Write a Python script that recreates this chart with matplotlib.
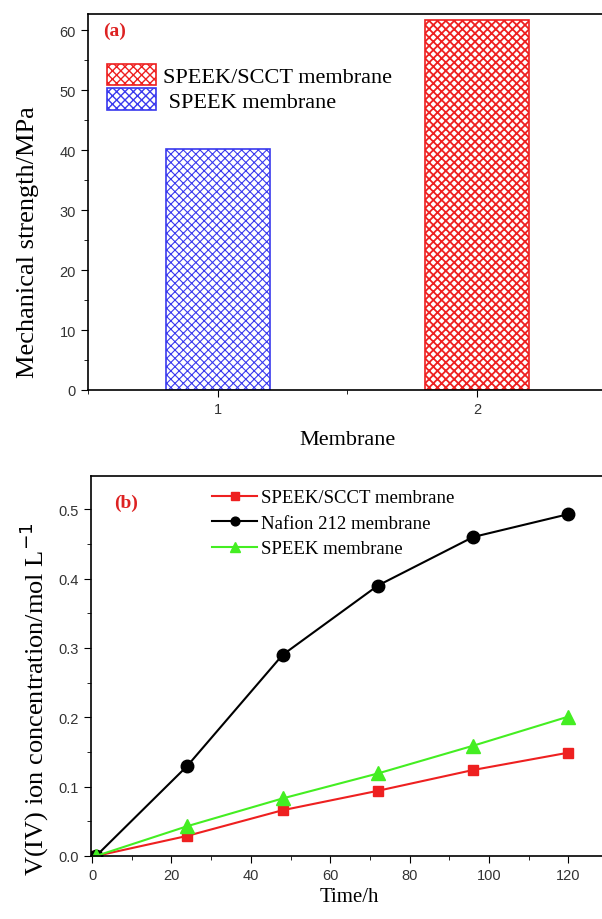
import matplotlib
matplotlib.use("Agg")
import matplotlib.pyplot as plt
from matplotlib.ticker import MultipleLocator

# ---- data ----
membranes = [1, 2]
strength = [40.2, 61.7]
bar_labels = ["SPEEK membrane", "SPEEK/SCCT membrane"]

time_h = [1, 24, 48, 72, 96, 120]
scct = [0.0, 0.029, 0.066, 0.094, 0.124, 0.149]
nafion = [0.0, 0.13, 0.29, 0.39, 0.46, 0.493]
speek = [0.0, 0.043, 0.083, 0.119, 0.159, 0.201]

serif = ["Liberation Serif", "DejaVu Serif"]
sans = ["Liberation Sans", "DejaVu Sans"]
plt.rcParams["font.family"] = sans

RED = "#ee2020"
BLUE = "#3a3aee"
GREEN = "#44ee22"

fig = plt.figure(figsize=(6.02, 9.2), dpi=100)

# ---------- panel (a) ----------
ax1 = fig.add_axes([0.146, 0.575, 0.862, 0.409])
with plt.rc_context({"hatch.linewidth": 0.8}):
    b1 = ax1.bar(membranes[0], strength[0], width=0.4, facecolor="white",
                 edgecolor=BLUE, hatch="xxxx", linewidth=1.2, label=bar_labels[0])
with plt.rc_context({"hatch.linewidth": 1.3}):
    b2 = ax1.bar(membranes[1], strength[1], width=0.4, facecolor="white",
                 edgecolor=RED, hatch="xxxx", linewidth=1.2, label=bar_labels[1])
ax1.set_xlim(0.5, 2.5)
ax1.set_ylim(0, 62.8)
ax1.set_xticks([1, 2])
ax1.xaxis.set_minor_locator(MultipleLocator(0.5))
ax1.yaxis.set_major_locator(MultipleLocator(10))
ax1.yaxis.set_minor_locator(MultipleLocator(5))
ax1.tick_params(which="both", direction="out", labelsize=10.5, labelcolor="#333333")
ax1.tick_params(which="major", length=5)
ax1.tick_params(which="minor", length=3)
ax1.set_xlabel("Membrane", fontfamily=serif, fontsize=16, labelpad=10)
ax1.set_ylabel("Mechanical strength/MPa", fontfamily=serif, fontsize=19)
ax1.yaxis.set_label_coords(-0.095, 0.395)
ax1.text(0.03, 0.955, "(a)", transform=ax1.transAxes, color="#dd2222",
         fontfamily=serif, fontweight="bold", fontsize=14, va="center")
ax1.legend([b2, b1], [bar_labels[1], " " + bar_labels[0]], loc="upper left",
           bbox_to_anchor=(0.02, 0.89), frameon=False,
           prop={"family": serif, "size": 16}, handlelength=2.2,
           handleheight=1.1, handletextpad=0.3, labelspacing=0.05,
           borderaxespad=0)
for s in ax1.spines.values():
    s.set_linewidth(1.2)

# ---------- panel (b) ----------
ax2 = fig.add_axes([0.151, 0.0685, 0.859, 0.413])
ax2.plot(time_h, scct, color=RED, marker="s", markersize=7.5, linewidth=1.5,
         label="SPEEK/SCCT membrane")
ax2.plot(time_h, nafion, color="black", marker="o", markersize=9, linewidth=1.5,
         label="Nafion 212 membrane")
ax2.plot(time_h, speek, color=GREEN, marker="^", markersize=9.5, linewidth=1.5,
         label="SPEEK membrane")
ax2.set_xlim(-0.3, 130)
ax2.set_ylim(0, 0.548)
ax2.xaxis.set_major_locator(MultipleLocator(20))
ax2.xaxis.set_minor_locator(MultipleLocator(10))
ax2.yaxis.set_major_locator(MultipleLocator(0.1))
ax2.yaxis.set_minor_locator(MultipleLocator(0.05))
ax2.tick_params(which="both", direction="out", labelsize=10.5, labelcolor="#333333")
ax2.tick_params(which="major", length=5)
ax2.tick_params(which="minor", length=3)
ax2.set_xlabel("Time/h", fontfamily=serif, fontsize=15, labelpad=4)
ax2.set_ylabel("V(IV) ion concentration/mol L$^{-1}$", fontfamily=serif,
               fontsize=19)
ax2.yaxis.set_label_coords(-0.077, 0.415)
ax2.text(0.045, 0.932, "(b)", transform=ax2.transAxes, color="#dd2222",
         fontfamily=serif, fontweight="bold", fontsize=14, va="center")
leg = ax2.legend(loc="upper left", bbox_to_anchor=(0.22, 0.985), frameon=False,
                 prop={"family": serif, "size": 13.5}, handlelength=2.4,
                 handletextpad=0.2, labelspacing=0.45, borderaxespad=0,
                 markerscale=0.7)
for s in ax2.spines.values():
    s.set_linewidth(1.2)

fig.savefig("out.png", dpi=100)
